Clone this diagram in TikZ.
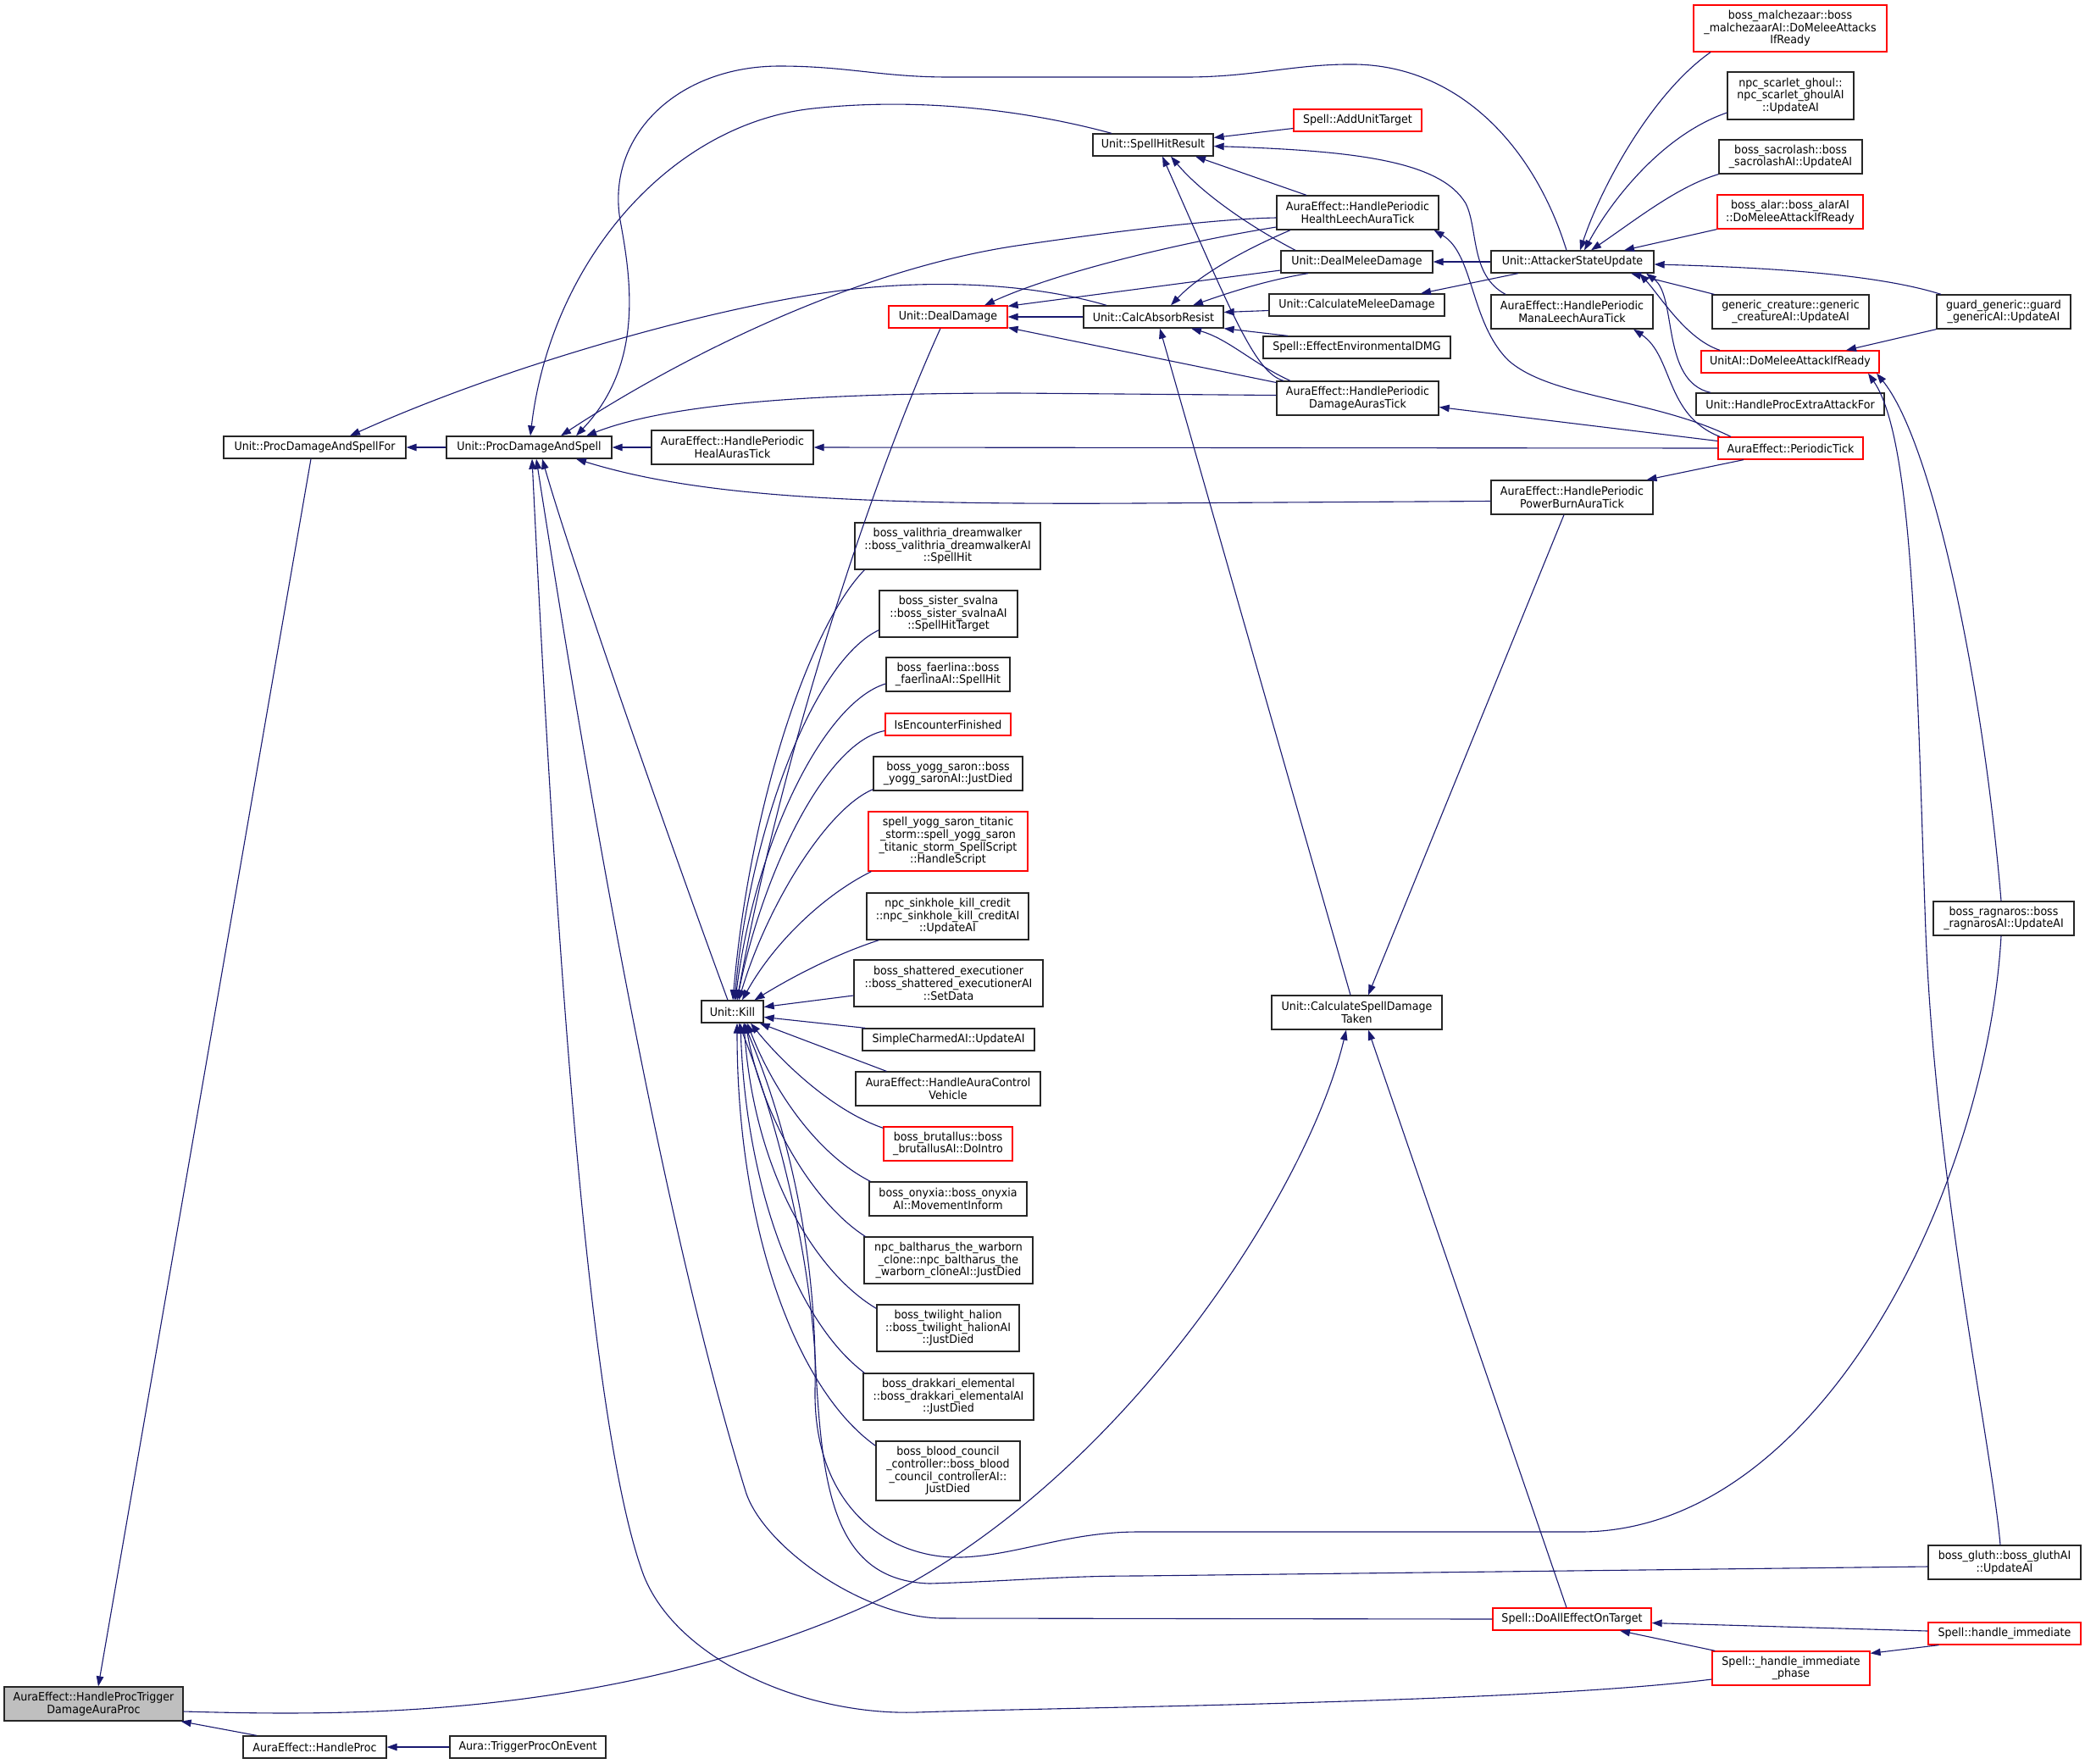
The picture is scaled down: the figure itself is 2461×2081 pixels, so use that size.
\documentclass[tikz,border=0pt]{standalone}
\usepackage{fontspec}
\setmainfont{DejaVu Sans}[FakeStretch=0.93]
\usetikzlibrary{arrows.meta}
\definecolor{edgec}{HTML}{191970}
\definecolor{redc}{HTML}{FF0000}
\definecolor{rootc}{HTML}{BFBFBF}
\newcommand\gnode[7]{\node[#6, minimum width=#3-#2, minimum height=#5-#4] (#1) at ({(#2+#3)/2},{(#4+#5)/2}) {#7};}
\begin{document}
\begin{tikzpicture}[x=1pt,y=-1pt,
  box/.style={draw=black!85, line width=1.3pt, inner sep=0pt, align=center, fill=white,
     font=\fontsize{13.6}{14.6}\selectfont},
  redbox/.style={box, draw=redc},
  rootbox/.style={box, fill=rootc},
  edge/.style={draw=edgec, line width=1.1pt, {Triangle[length=12pt,width=8.5pt]}-}]
\useasboundingbox[fill=white] (0,0) rectangle (2461,2081);

% ---------- nodes ----------
\gnode{rt}{5}{216}{1991}{2031}{rootbox}{AuraEffect::HandleProcTrigger\\DamageAuraProc}
\gnode{hp}{287}{456}{2049}{2075}{box}{AuraEffect::HandleProc}
\gnode{tpoe}{531}{715}{2049}{2075}{box}{Aura::TriggerProcOnEvent}
\gnode{pdsf}{264}{479}{515}{541}{box}{Unit::ProcDamageAndSpellFor}
\gnode{pds}{527}{722}{515}{541}{box}{Unit::ProcDamageAndSpell}
\gnode{heal}{769}{960}{508}{548}{box}{AuraEffect::HandlePeriodic\\HealAurasTick}
\gnode{kill}{828}{901}{1181}{1207}{box}{Unit::Kill}
\gnode{dd}{1049}{1189}{361}{387}{redbox}{Unit::DealDamage}
\gnode{car}{1279}{1444}{361}{387}{box}{Unit::CalcAbsorbResist}
\gnode{shr}{1290}{1432}{158}{184}{box}{Unit::SpellHitResult}
\gnode{aut}{1527}{1678}{129}{155}{redbox}{Spell::AddUnitTarget}
\gnode{hl}{1507}{1698}{231}{271}{box}{AuraEffect::HandlePeriodic\\HealthLeechAuraTick}
\gnode{dmd}{1512}{1691}{296}{322}{box}{Unit::DealMeleeDamage}
\gnode{cmd}{1498}{1705}{347}{373}{box}{Unit::CalculateMeleeDamage}
\gnode{eed}{1491}{1712}{397}{423}{box}{Spell::EffectEnvironmentalDMG}
\gnode{dat}{1507}{1698}{450}{490}{box}{AuraEffect::HandlePeriodic\\DamageAurasTick}
\gnode{asu}{1760}{1952}{296}{322}{box}{Unit::AttackerStateUpdate}
\gnode{ml}{1760}{1951}{348}{388}{box}{AuraEffect::HandlePeriodic\\ManaLeechAuraTick}
\gnode{pb}{1760}{1951}{567}{607}{box}{AuraEffect::HandlePeriodic\\PowerBurnAuraTick}
\gnode{csdt}{1501}{1702}{1175}{1215}{box}{Unit::CalculateSpellDamage\\Taken}
\gnode{daeot}{1762}{1949}{1898}{1924}{redbox}{Spell::DoAllEffectOnTarget}
\gnode{mal}{1999}{2227}{6}{61}{redbox}{boss\_malchezaar::boss\\\_malchezaarAI::DoMeleeAttacks\\IfReady}
\gnode{sg}{2039}{2188}{85}{141}{box}{npc\_scarlet\_ghoul::\\npc\_scarlet\_ghoulAI\\::UpdateAI}
\gnode{sac}{2029}{2198}{165}{205}{box}{boss\_sacrolash::boss\\\_sacrolashAI::UpdateAI}
\gnode{alar}{2027}{2199}{230}{270}{redbox}{boss\_alar::boss\_alarAI\\::DoMeleeAttackIfReady}
\gnode{gc}{2021}{2206}{348}{388}{box}{generic\_creature::generic\\\_creatureAI::UpdateAI}
\gnode{uai}{2008}{2218}{414}{440}{redbox}{UnitAI::DoMeleeAttackIfReady}
\gnode{hpe}{2002}{2224}{464}{490}{box}{Unit::HandleProcExtraAttackFor}
\gnode{pt}{2028}{2199}{516}{542}{redbox}{AuraEffect::PeriodicTick}
\gnode{hip}{2021}{2207}{1949}{1989}{redbox}{Spell::\_handle\_immediate\\\_phase}
\gnode{gg}{2286}{2444}{348}{388}{box}{guard\_generic::guard\\\_genericAI::UpdateAI}
\gnode{rag}{2282}{2448}{1064}{1104}{box}{boss\_ragnaros::boss\\\_ragnarosAI::UpdateAI}
\gnode{glu}{2276}{2456}{1824}{1864}{box}{boss\_gluth::boss\_gluthAI\\::UpdateAI}
\gnode{hi}{2276}{2456}{1915}{1941}{redbox}{Spell::handle\_immediate}
\gnode{val}{1009}{1228}{617}{672}{box}{boss\_valithria\_dreamwalker\\::boss\_valithria\_dreamwalkerAI\\::SpellHit}
\gnode{sv}{1038}{1201}{697}{752}{box}{boss\_sister\_svalna\\::boss\_sister\_svalnaAI\\::SpellHitTarget}
\gnode{fae}{1046}{1192}{776}{816}{box}{boss\_faerlina::boss\\\_faerlinaAI::SpellHit}
\gnode{ief}{1045}{1193}{842}{868}{redbox}{IsEncounterFinished}
\gnode{yogg}{1031}{1207}{893}{933}{box}{boss\_yogg\_saron::boss\\\_yogg\_saronAI::JustDied}
\gnode{tit}{1025}{1213}{958}{1028}{redbox}{spell\_yogg\_saron\_titanic\\\_storm::spell\_yogg\_saron\\\_titanic\_storm\_SpellScript\\::HandleScript}
\gnode{sink}{1023}{1214}{1054}{1109}{box}{npc\_sinkhole\_kill\_credit\\::npc\_sinkhole\_kill\_creditAI\\::UpdateAI}
\gnode{se}{1008}{1231}{1133}{1188}{box}{boss\_shattered\_executioner\\::boss\_shattered\_executionerAI\\::SetData}
\gnode{sc}{1018}{1221}{1214}{1240}{box}{SimpleCharmedAI::UpdateAI}
\gnode{acv}{1010}{1228}{1265}{1305}{box}{AuraEffect::HandleAuraControl\\Vehicle}
\gnode{bru}{1043}{1195}{1330}{1370}{redbox}{boss\_brutallus::boss\\\_brutallusAI::DoIntro}
\gnode{ony}{1026}{1212}{1395}{1435}{box}{boss\_onyxia::boss\_onyxia\\AI::MovementInform}
\gnode{bal}{1020}{1219}{1460}{1515}{box}{npc\_baltharus\_the\_warborn\\\_clone::npc\_baltharus\_the\\\_warborn\_cloneAI::JustDied}
\gnode{tw}{1035}{1203}{1540}{1595}{box}{boss\_twilight\_halion\\::boss\_twilight\_halionAI\\::JustDied}
\gnode{dra}{1019}{1220}{1621}{1676}{box}{boss\_drakkari\_elemental\\::boss\_drakkari\_elementalAI\\::JustDied}
\gnode{bc}{1034}{1204}{1701}{1771}{box}{boss\_blood\_council\\\_controller::boss\_blood\\\_council\_controllerAI::\\JustDied}

% ---------- edges (arrow at callee) ----------
\draw[edge] (pdsf.east) -- (pds.west);
\draw[edge] (pds.east) -- (heal.west);
\draw[edge] (heal.east) -- (pt.west);
\draw[edge] (hp.east) -- (tpoe.west);
\draw[edge] ([xshift=-3]rt.south east) -- ([xshift=-68.5]hp.north);
\draw[edge] ([xshift=5.5]rt.north) -- ([xshift=-4.5]pdsf.south);
\draw[edge] ([xshift=-12.5]csdt.south) .. controls (1540,1420) and (1300,1780) .. (1000,1905)
   .. controls (700,2030) and (400,2025) .. ([yshift=-9]rt.east);
\draw[edge] ([xshift=13.5]csdt.north) -- ([xshift=-9.5]pb.south);
\draw[edge] ([xshift=13.5]csdt.south) -- ([xshift=-6.5]daeot.north);
\draw[edge] ([xshift=7.5]car.south) -- ([xshift=-7.5]csdt.north);
\draw[edge] (dd.east) -- (car.west);
\draw[edge] ([yshift=-1]dd.north east) -- ([yshift=-10]dmd.west);
\draw[edge] ([xshift=43]dd.north) .. controls (1250,320) and (1400,285) .. ([yshift=-17]hl.west);
\draw[edge] ([yshift=1]dd.south east) -- ([yshift=18.5]dat.west);
\draw[edge] ([xshift=5.5]kill.north) .. controls (920,900) and (1025,575) .. ([xshift=-9]dd.south);
\draw[edge] ([xshift=15.5]pds.south) .. controls (680,680) and (800,1020) .. ([xshift=-5.5]kill.north);
\draw[edge] ([xshift=8.5]pds.south) .. controls (720,1100) and (800,1500) .. (880,1760)
   .. controls (900,1825) and (1020,1910) .. (1113,1910) -- (daeot.west);
\draw[edge] ([xshift=3.5]pds.south) .. controls (660,1200) and (700,1700) .. (760,1860)
   .. controls (800,1960) and (950,2025) .. (1082,2021)
   .. controls (1250,2015) and (1800,2010) .. ([yshift=-13]hip.west);
\draw[edge] ([xshift=55.5]pds.south) .. controls (820,585) and (1000,596) .. (1343,594) -- ([yshift=-4.5]pb.west);
\draw[edge] ([xshift=1.5]pds.north) .. controls (650,310) and (790,146) .. (960,128)
   .. controls (1100,113) and (1230,135) .. ([xshift=-49]shr.north);
\draw[edge] ([xshift=55.5]pds.north) .. controls (760,430) and (745,330) .. (732,260)
   .. controls (715,160) and (800,78) .. (920,78)
   .. controls (1000,78) and (1040,91) .. (1120,91) -- (1400,91)
   .. controls (1480,91) and (1530,75) .. (1600,76)
   .. controls (1720,78) and (1810,170) .. ([xshift=-7]asu.north);
\draw[edge] ([xshift=37.5]pds.north) .. controls (790,430) and (1000,320) .. (1200,290)
   .. controls (1350,268) and (1450,258) .. ([yshift=-6]hl.west);
\draw[edge] ([xshift=67.5]pds.north) .. controls (800,472) and (1000,464) .. (1200,464) -- ([yshift=3.5]dat.west);
\draw[edge] ([xshift=41.5]pdsf.north) .. controls (600,430) and (850,360) .. (1000,342)
   .. controls (1120,328) and (1230,338) .. ([xshift=-55.5]car.north);
\draw[edge] ([yshift=8.5]shr.east) -- ([yshift=-9.5]aut.west);
\draw[edge] ([yshift=-1.5]shr.east) .. controls (1600,178) and (1700,190) .. (1730,240)
   .. controls (1745,270) and (1735,325) .. ([xshift=-78.5]ml.north);
\draw[edge] ([xshift=50]shr.south) -- ([xshift=-60.5]hl.north);
\draw[edge] ([xshift=21]shr.south) .. controls (1420,230) and (1480,270) .. ([xshift=-72.5]dmd.north);
\draw[edge] ([xshift=11]shr.south) .. controls (1450,360) and (1480,440) .. ([xshift=-87.5]dat.north);
\draw[edge] ([xshift=20.5]car.north) .. controls (1420,320) and (1480,290) .. ([xshift=-79.5]hl.south);
\draw[edge] ([xshift=46.5]car.north) .. controls (1460,342) and (1500,330) .. ([xshift=-57.5]dmd.south);
\draw[edge] ([yshift=5.5]car.east) -- ([yshift=-6.5]cmd.west);
\draw[edge] (car.south east) -- ([xshift=-81.5]eed.north);
\draw[edge] ([xshift=44.5]car.south) .. controls (1450,400) and (1480,430) .. ([xshift=-79.5]dat.north);
\draw[edge] ([xshift=90]hl.south) .. controls (1740,300) and (1735,380) .. (1780,425)
   .. controls (1830,470) and (1950,470) .. ([xshift=-70.5]pt.north);
\draw[edge] ([xshift=72.5]ml.south) .. controls (1975,420) and (1965,490) .. ([xshift=-83.5]pt.north);
\draw[edge] ([yshift=-10.5]dat.east) -- ([yshift=8.5]pt.west);
\draw[edge] ([xshift=88]pb.north) -- ([xshift=-55.5]pt.south);
\draw[edge] (dmd.east) -- (asu.west);
\draw[edge] ([xshift=75.5]cmd.north) -- ([xshift=-64]asu.south);
\draw[edge] ([xshift=9]asu.north) .. controls (1890,220) and (1950,110) .. ([xshift=-94]mal.south);
\draw[edge] ([xshift=14]asu.north) .. controls (1900,240) and (1960,160) .. ([yshift=-20]sg.west);
\draw[edge] ([xshift=22]asu.north) .. controls (1930,260) and (1980,220) .. (sac.south west);
\draw[edge] ([xshift=61]asu.north) -- (alar.south west);
\draw[edge] ([yshift=-3]asu.east) .. controls (2100,316) and (2220,325) .. ([xshift=-74]gg.north);
\draw[edge] ([xshift=69]asu.south) -- ([xshift=3]gc.north west);
\draw[edge] ([xshift=79]asu.south) .. controls (1960,350) and (1990,400) .. ([xshift=-83]uai.north);
\draw[edge] ([xshift=87]asu.south) .. controls (1980,350) and (1960,450) .. ([xshift=-94]hpe.north);
\draw[edge] ([xshift=66]uai.north) -- (gg.south west);
\draw[edge] ([xshift=102]uai.south) .. controls (2280,520) and (2340,800) .. ([xshift=-3]rag.north);
\draw[edge] ([xshift=92]uai.south) .. controls (2260,520) and (2262,800) .. (2273,1100)
   .. controls (2285,1400) and (2350,1700) .. ([xshift=-5]glu.north);
\draw[edge] ([xshift=13.5]kill.south) .. controls (930,1330) and (965,1480) .. (962,1640)
   .. controls (960,1780) and (1050,1840) .. (1134,1838)
   .. controls (1200,1836) and (1260,1808) .. (1343,1808) -- (1865,1808)
   .. controls (2150,1808) and (2345,1400) .. ([xshift=-3]rag.south);
\draw[edge] ([xshift=7.5]kill.south) .. controls (920,1330) and (955,1480) .. (962,1600)
   .. controls (970,1750) and (980,1865) .. (1097,1869)
   .. controls (1200,1866) and (1250,1860) .. (1343,1860) -- ([yshift=-5]glu.west);
% Kill callers
\draw[edge] ([xshift=0.5]kill.north) .. controls (885,950) and (955,740) .. ([xshift=12]val.south west);
\draw[edge] ([xshift=2.5]kill.north) .. controls (885,980) and (960,780) .. ([yshift=9]sv.south west);
\draw[edge] ([xshift=3.5]kill.north) .. controls (890,1000) and (970,830) .. ([yshift=-11]fae.west);
\draw[edge] ([xshift=5.5]kill.north) .. controls (900,1030) and (975,875) .. ([yshift=-7.5]ief.west);
\draw[edge] ([xshift=7.5]kill.north) .. controls (905,1070) and (975,955) .. ([yshift=2]yogg.south west);
\draw[edge] ([xshift=11.5]kill.north) .. controls (915,1110) and (975,1055) .. ([xshift=4]tit.south west);
\draw[edge] ([xshift=26]kill.north) .. controls (940,1150) and (990,1125) .. ([xshift=15]sink.south west);
\draw[edge] ([yshift=5.5]kill.east) -- ([yshift=-14.5]se.west);
\draw[edge] ([yshift=-6.5]kill.east) -- ([xshift=4]sc.north west);
\draw[edge] ([xshift=-5]kill.south east) -- ([xshift=37]acv.north west);
\draw[edge] ([xshift=21.5]kill.south) .. controls (920,1250) and (980,1310) .. ([yshift=-2]bru.north west);
\draw[edge] ([xshift=17.5]kill.south) .. controls (910,1280) and (960,1360) .. ([xshift=2]ony.north west);
\draw[edge] ([xshift=15.5]kill.south) .. controls (900,1320) and (960,1420) .. ([xshift=2]bal.north west);
\draw[edge] ([xshift=13.5]kill.south) .. controls (890,1380) and (960,1500) .. ([yshift=-5]tw.north west);
\draw[edge] ([xshift=9.5]kill.south) .. controls (880,1400) and (940,1560) .. ([xshift=2]dra.north west);
\draw[edge] ([xshift=5.5]kill.south) .. controls (870,1450) and (940,1640) .. ([yshift=-6]bc.north west);
% Spell
\draw[edge] ([yshift=-4.5]daeot.east) -- ([yshift=3]hi.west);
\draw[edge] ([xshift=56.5]daeot.south) -- ([xshift=4]hip.north west);
\draw[edge] ([yshift=-3]hip.north east) -- ([xshift=13]hi.south west);
\end{tikzpicture}
\end{document}
